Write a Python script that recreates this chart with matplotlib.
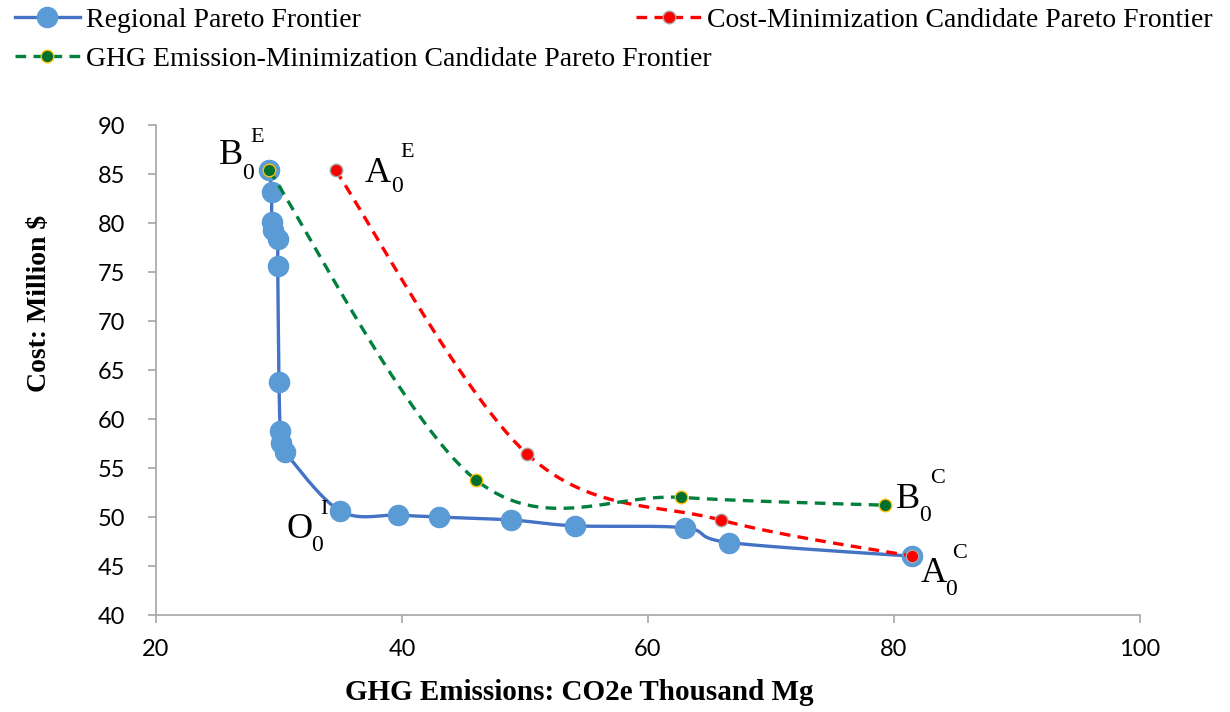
import numpy as np
import matplotlib
matplotlib.use('Agg')
import matplotlib.pyplot as plt

# regional frontier (GHG emissions in thousand Mg CO2e, cost in million $)
reg_x = [29.2, 29.4, 29.4, 29.5, 29.9, 29.9, 30.0, 30.1, 30.2, 30.5,
         35.0, 39.7, 43.0, 48.9, 54.1, 63.0, 66.6, 81.5]
reg_y = [85.4, 83.2, 80.1, 79.3, 78.4, 75.6, 63.8, 58.8, 57.6, 56.6,
         50.6, 50.2, 50.0, 49.7, 49.1, 48.9, 47.4, 46.0]

# cost-minimization candidate frontier
cost_x = [34.6, 50.2, 65.9, 81.5]
cost_y = [85.4, 56.4, 49.7, 46.0]

# GHG emission-minimization candidate frontier
ghg_x = [29.2, 46.0, 62.7, 79.3]
ghg_y = [85.4, 53.8, 52.0, 51.2]


def smooth(xs, ys, n=30):
    # bezier smoothing through every point, like a spreadsheet "smoothed line"
    p = np.column_stack([xs, ys]).astype(float)
    pts = [p[0]]
    for i in range(len(p) - 1):
        p0 = p[i - 1] if i > 0 else p[i]
        p3 = p[i + 2] if i + 2 < len(p) else p[i + 1]
        c1 = p[i] + (p[i + 1] - p0) / 6.0
        c2 = p[i + 1] - (p3 - p[i]) / 6.0
        t = np.linspace(0, 1, n + 1)[1:, None]
        seg = ((1 - t) ** 3 * p[i] + 3 * (1 - t) ** 2 * t * c1
               + 3 * (1 - t) * t ** 2 * c2 + t ** 3 * p[i + 1])
        pts.extend(seg)
    pts = np.array(pts)
    marks = list(range(0, len(pts), n))
    return pts[:, 0], pts[:, 1], marks


plt.rcParams['font.family'] = ['Lato', 'DejaVu Sans']  # tick labels
serif = 'Liberation Serif'
fig = plt.figure(figsize=(12.3, 7.12), dpi=100)
ax = fig.add_axes([0.1268, 0.1362, 0.8, 0.6882])

sx, sy, mk = smooth(reg_x, reg_y)
l1, = ax.plot(sx, sy, color='#4472C4', lw=2.4, marker='o', markevery=mk,
              ms=14.5, mfc='#5B9BD5', mec='#5B9BD5', label='Regional Pareto Frontier')
sx, sy, mk = smooth(cost_x, cost_y)
l2, = ax.plot(sx, sy, color='#FF0000', lw=2.4, ls='--', dashes=(3.2, 2.2),
              marker='o', markevery=mk, ms=9, mfc='#FF0000', mec='#A6A6A6', mew=1,
              label='Cost-Minimization Candidate Pareto Frontier')
sx, sy, mk = smooth(ghg_x, ghg_y)
l3, = ax.plot(sx, sy, color='#00803C', lw=2.4, ls='--', dashes=(3.2, 2.2),
              marker='o', markevery=mk, ms=9, mfc='#00702F', mec='#FFC000', mew=1,
              label='GHG Emission-Minimization Candidate Pareto Frontier')

ax.set_xlim(20, 100)
ax.set_ylim(40, 90)
ax.set_xticks([20, 40, 60, 80, 100])
ax.set_yticks(range(40, 91, 5))
for s in ['top', 'right']:
    ax.spines[s].set_visible(False)
for s in ['left', 'bottom']:
    ax.spines[s].set_color('#A6A6A6')
    ax.spines[s].set_linewidth(1.2)
ax.tick_params(colors='#A6A6A6', length=6, width=1.2, labelcolor='black', labelsize=17)
ax.tick_params(axis='x', pad=11)
ax.tick_params(axis='y', pad=16)

ax.set_xlabel('GHG Emissions: CO2e Thousand Mg', family=serif, fontsize=21,
              fontweight='bold')
ax.set_ylabel('Cost: Million $', family=serif, fontsize=20, fontweight='bold')
ax.xaxis.set_label_coords(0.43, -0.131)
ax.yaxis.set_label_coords(-0.106, 0.635)


# point labels: letter, subscript 0, superscript
def tag(x, y, letter, sup, d_let, d_sub, d_sup):
    ax.annotate(letter, (x, y), xytext=d_let, textcoords='offset pixels',
                ha='center', va='center', family=serif, fontsize=26)
    ax.annotate('0', (x, y), xytext=d_sub, textcoords='offset pixels',
                ha='center', va='center', family=serif, fontsize=17)
    ax.annotate(sup, (x, y), xytext=d_sup, textcoords='offset pixels',
                ha='center', va='center', family=serif, fontsize=16)


tag(ghg_x[0], ghg_y[0], 'B', 'E', (-38, 15), (-21, -3), (-12, 33))
tag(cost_x[0], cost_y[0], 'A', 'E', (42, -3), (61, -16), (72, 18))
tag(reg_x[10], reg_y[10], 'O', 'I', (-41, -18), (-23, -34), (-17, 2))
tag(ghg_x[3], ghg_y[3], 'B', 'C', (23, 6), (40, -10), (52, 27))
tag(cost_x[3], cost_y[3], 'A', 'C', (21, -17), (39, -33), (47, 3))

leg_kw = dict(frameon=False, prop={'family': serif, 'size': 20}, handlelength=2.35,
              handletextpad=0.2, borderaxespad=0, numpoints=1, borderpad=0)
fig.legend(handles=[l1, l3], loc='upper left', bbox_to_anchor=(0.012, 0.99),
           labelspacing=0.5, **leg_kw)
fig.legend(handles=[l2], loc='upper left', bbox_to_anchor=(0.517, 0.99), **leg_kw)

fig.savefig('out.png', dpi=100)
